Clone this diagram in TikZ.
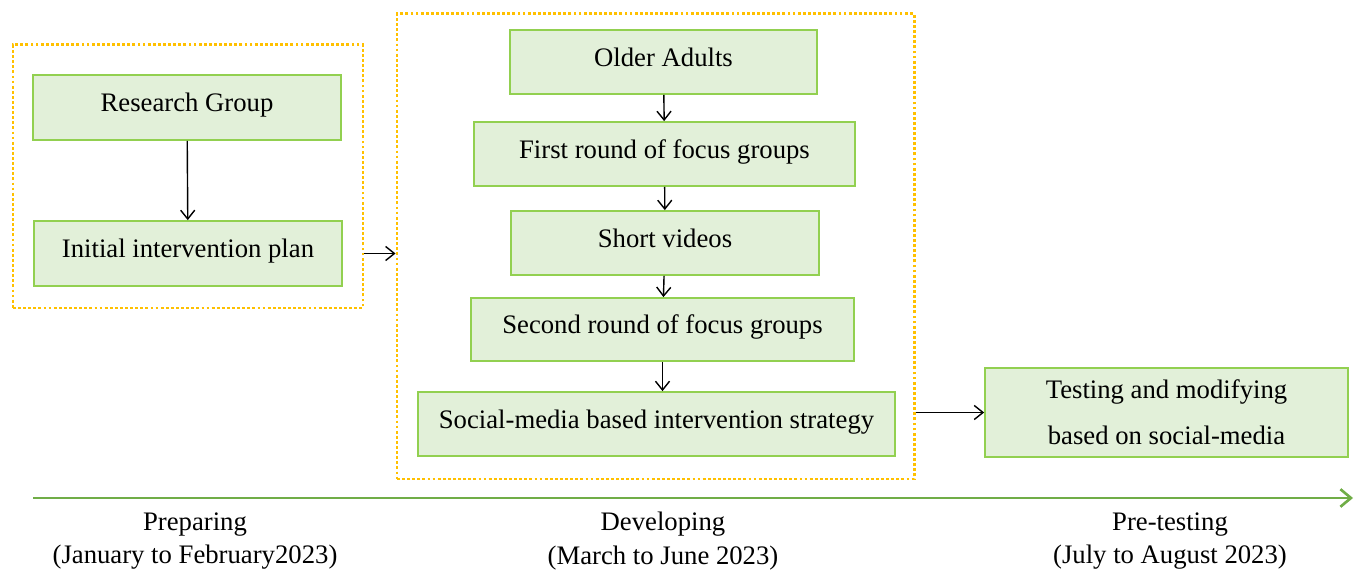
\documentclass[tikz,border=0pt]{standalone}
\usepackage{fontspec}
\setmainfont{Liberation Serif}
\usetikzlibrary{arrows.meta}

\newlength{\du}
\setlength{\du}{0.02cm}

\definecolor{boxfill}{HTML}{E2F0D9}
\definecolor{boxline}{HTML}{92D050}
\definecolor{phaseline}{HTML}{FFC000}
\definecolor{timeline}{HTML}{70AD47}

\tikzset{
  boxbase/.style={draw=boxline, fill=boxfill, line width=1pt,
    minimum height=65\du, align=center, inner sep=2pt,
    font=\fontsize{15.2}{18}\selectfont},
  stagebox/.style={boxbase, text height=10.5pt, text depth=5.9pt},
  phasebox/.style={draw=phaseline, line width=1.7pt,
    dash pattern=on 1.6pt off 1.3pt, inner sep=0pt},
  phaselabel/.style={align=center, font=\fontsize{15.2}{19}\selectfont},
  flow/.style={line width=0.8pt, -{Straight Barb[length=5pt,width=8pt]}},
  timearrow/.style={draw=timeline, line width=1.5pt,
    -{Straight Barb[length=6pt,width=10pt]}}
}

\begin{document}
\begin{tikzpicture}
\pgftransformxscale{1.000000}
\pgftransformyscale{-1.000000}
\useasboundingbox (0\du,0\du) rectangle (1356\du,573\du);

% phase frames
\node[phasebox, minimum width=350\du, minimum height=263\du] (prep) at (188\du,176.5\du) {};
\node[phasebox, minimum width=517\du, minimum height=465\du] (dev) at (655.5\du,246.5\du) {};

% preparing
\node[stagebox, minimum width=308\du] (research) at (187\du,107.5\du) {Research Group};
\node[stagebox, minimum width=308\du] (plan) at (188\du,253.5\du) {Initial intervention plan};

% developing
\node[stagebox, minimum width=307\du, minimum height=64\du] (older) at (663.5\du,62\du) {Older Adults};
\node[stagebox, minimum width=381\du, minimum height=64\du] (first) at (664.5\du,154\du) {First round of focus groups};
\node[stagebox, minimum width=308\du, minimum height=64\du] (videos) at (665\du,243\du) {Short videos};
\node[stagebox, minimum width=383\du, minimum height=63\du] (second) at (662.5\du,329.5\du) {Second round of focus groups};
\node[stagebox, minimum width=477\du, minimum height=64\du] (strategy) at (656.5\du,424\du) {Social-media based intervention strategy};

% pre-testing
\node[boxbase, minimum width=363\du, minimum height=89\du] (testing) at (1166.5\du,412.5\du) {Testing and modifying\\[8pt]based on social-media};

\draw[flow] (research) -- (plan);
\draw[flow] (older) -- (first);
\draw[flow] (first) -- (videos);
\draw[flow] (videos) -- (second);
\draw[flow] (second) -- (second |- strategy.north);
\draw[flow] (prep.east |- plan) -- (dev.west |- plan);
\draw[flow] (dev.east |- testing) -- (testing.west);

% timeline
\coordinate (tstart) at (33\du,498\du);
\coordinate (tend) at (1353\du,498\du);
\draw[timearrow] (tstart) -- (tend);

\node[phaselabel] (preplabel) at (195\du,541\du) {Preparing\\(January to February2023)};
\node[phaselabel] (devlabel) at (663\du,541\du) {Developing\\(March to June 2023)};
\node[phaselabel] (testlabel) at (1170\du,541\du) {Pre-testing\\(July to August 2023)};
\end{tikzpicture}
\end{document}
